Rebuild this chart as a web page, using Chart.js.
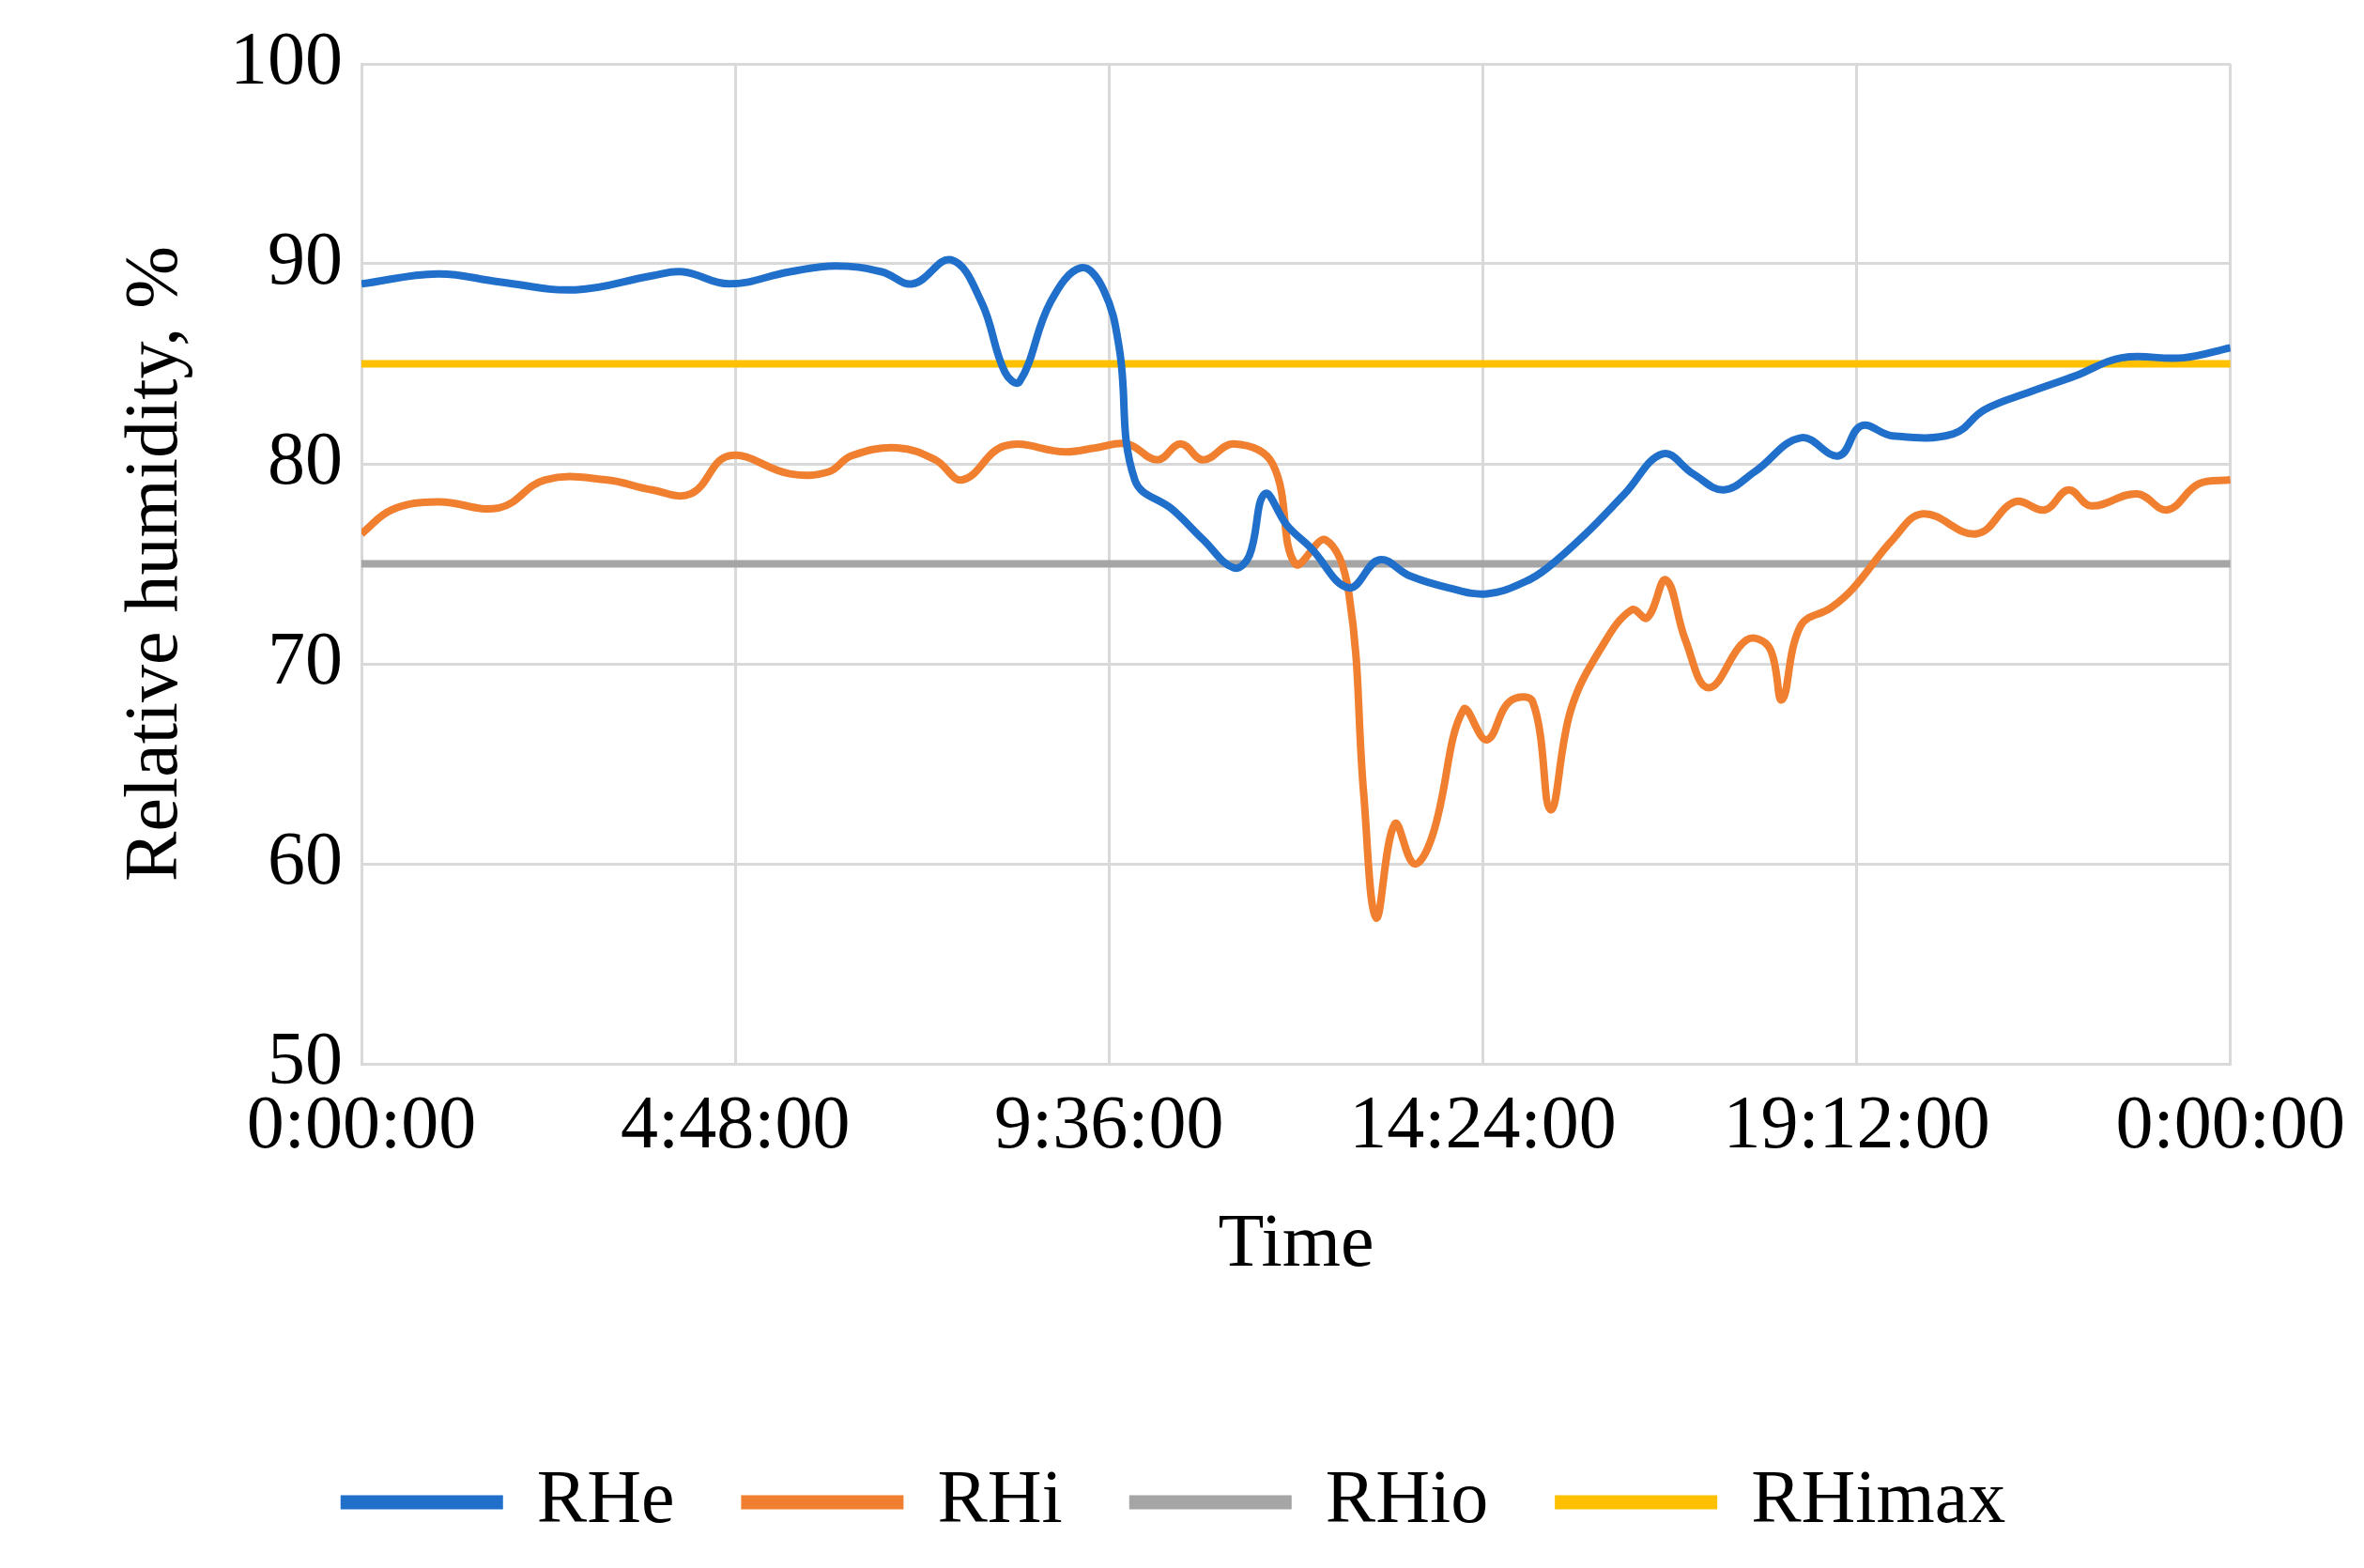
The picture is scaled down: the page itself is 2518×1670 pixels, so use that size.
<!DOCTYPE html>
<html><head><meta charset="utf-8">
<script src="https://cdn.jsdelivr.net/npm/chart.js@4"></script>
<style>html,body{margin:0;padding:0;background:#fff}#w{width:2518px;height:1670px}</style>
</head><body><div id="w"><canvas id="c"></canvas></div>
<script>
const rheHours=[0,0.98,1.77,2.75,3.73,4.13,4.72,5.50,6.09,6.68,7.08,7.57,7.96,8.26,8.45,8.85,9.24,9.53,9.73,9.93,10.42,10.81,11.20,11.40,11.60,11.89,12.19,12.68,13.07,13.46,13.96,14.45,14.94,15.23,15.72,16.22,16.71,17.10,17.49,17.89,18.48,18.97,19.26,19.66,20.44,20.84,21.43,22.01,22.60,23.39,24];
const rheValues=[89.0,89.5,89.1,88.7,89.4,89.6,89.0,89.6,89.9,89.6,89.0,90.2,88.1,84.6,84.1,88.1,89.8,88.7,85.8,79.2,77.7,76.2,74.8,75.4,78.5,76.9,75.8,73.8,75.2,74.4,73.8,73.5,74.1,74.8,76.5,78.5,80.5,79.5,78.7,79.6,81.3,80.4,81.9,81.4,81.5,82.7,83.6,84.4,85.3,85.3,85.8];
const rhiHours=[0,0.39,0.98,1.77,2.36,3.14,3.73,4.23,4.72,5.50,6.00,6.29,6.88,7.37,7.72,8.26,9.04,9.43,9.83,10.22,10.52,10.81,11.20,11.70,11.99,12.38,12.68,12.87,13.03,13.27,13.52,13.76,14.15,14.45,14.74,15.04,15.27,15.53,15.92,16.31,16.51,16.75,17.00,17.30,17.79,18.08,18.24,18.48,18.87,19.16,19.66,20.05,20.74,21.23,21.62,21.92,22.21,22.80,23.19,23.59,24];
const rhiValues=[76.5,77.7,78.1,77.8,79.2,79.2,78.7,78.5,80.4,79.5,79.6,80.4,80.8,80.2,79.2,80.9,80.6,80.8,81.0,80.2,81.0,80.2,81.0,80.0,75.0,76.2,73.5,63.5,57.3,62.0,60.0,61.5,67.7,66.2,68.1,68.1,62.7,67.7,70.8,72.7,72.3,74.2,71.2,68.8,71.2,70.8,68.2,71.9,72.8,73.8,76.2,77.5,76.5,78.1,77.7,78.7,77.9,78.5,77.7,79.0,79.2];
const rhioLevel=75, rhimaxLevel=85;
const xTicks=[0,4.8,9.6,14.4,19.2,24];
const yTicks=[50,60,70,80,90,100];
const pts=(h,v)=>h.map((x,i)=>({x,y:v[i]}));
const font={family:'"Liberation Serif","Times New Roman",serif',size:80};
new Chart(document.getElementById('c'),{
type:'line',
data:{datasets:[
{label:'RHe',data:pts(rheHours,rheValues),borderColor:'#1f6fcb',backgroundColor:'#1f6fcb',borderWidth:8,pointRadius:0,tension:0.4},
{label:'RHi',data:pts(rhiHours,rhiValues),borderColor:'#f07f2f',backgroundColor:'#f07f2f',borderWidth:8,pointRadius:0,tension:0.4},
{label:'RHio',data:[{x:0,y:rhioLevel},{x:24,y:rhioLevel}],borderColor:'#a5a5a5',backgroundColor:'#a5a5a5',borderWidth:8,pointRadius:0},
{label:'RHimax',data:[{x:0,y:rhimaxLevel},{x:24,y:rhimaxLevel}],borderColor:'#ffc000',backgroundColor:'#ffc000',borderWidth:8,pointRadius:0}
]},
options:{responsive:true,maintainAspectRatio:false,animation:false,
layout:{padding:{left:115,right:130,top:62,bottom:20}},
plugins:{legend:{position:'bottom',labels:{font,color:'#000',boxWidth:165,boxHeight:7,padding:75}},tooltip:{enabled:false}},
scales:{
x:{type:'linear',min:0,max:24,afterBuildTicks:a=>{a.ticks=xTicks.map(v=>({value:v}));},
ticks:{font,color:'#000',maxRotation:0,padding:20,callback:v=>{const m=Math.round(v*60)%1440;return Math.floor(m/60)+':'+String(m%60).padStart(2,'0')+':00';}},
grid:{color:'#d9d9d9',lineWidth:3,drawTicks:false},border:{color:'#d9d9d9',width:3},
title:{display:true,text:'Time',font,color:'#000',padding:{top:10,bottom:110}}},
y:{min:50,max:100,afterBuildTicks:a=>{a.ticks=yTicks.map(v=>({value:v}));},
ticks:{font,color:'#000',padding:20},
grid:{color:'#d9d9d9',lineWidth:3,drawTicks:false},border:{color:'#d9d9d9',width:3},
title:{display:true,text:'Relative humidity, %',font,color:'#000',padding:{bottom:10}}}
}}});
</script></body></html>
